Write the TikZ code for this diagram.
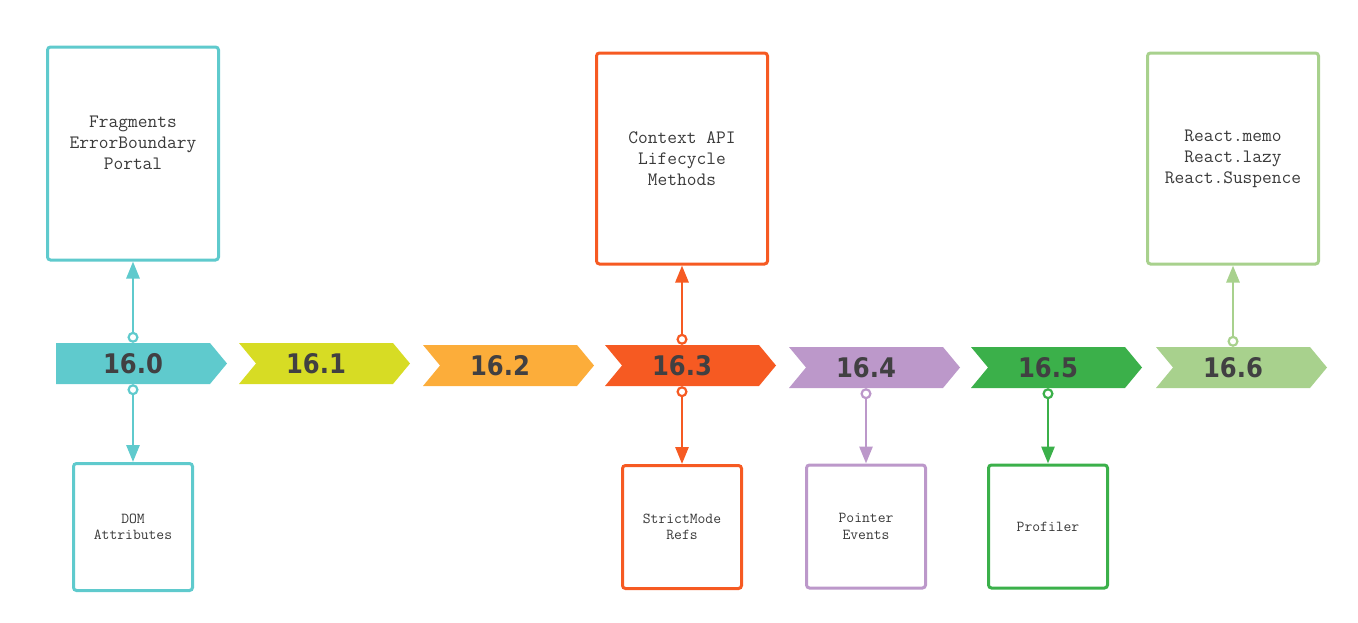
\documentclass[tikz,border=0pt]{standalone}
\usepackage{fontspec}
\newfontfamily\verfont{DejaVu Sans Condensed Bold}
\usepackage{tikz}
\usetikzlibrary{arrows.meta,positioning,calc}

\definecolor{c0}{HTML}{5FCACD}
\definecolor{c1}{HTML}{D7DC24}
\definecolor{c2}{HTML}{FCAD3A}
\definecolor{c3}{HTML}{F65A22}
\definecolor{c4}{HTML}{BC98CA}
\definecolor{c5}{HTML}{3BB04A}
\definecolor{c6}{HTML}{A8D18D}
\definecolor{vergray}{HTML}{414042}
\definecolor{boxgray}{HTML}{3A3A3A}

\begin{document}
\begin{tikzpicture}[x=1pt,y=-1pt,
ver/.style={minimum width=154pt,minimum height=41pt,inner sep=0pt,text=vergray,font=\verfont\fontsize{27}{27}\selectfont},
topbox/.style={draw=#1,fill=white,line width=3pt,rounded corners=3pt,minimum width=171pt,minimum height=211pt,align=center,text=boxgray,font=\ttfamily\fontsize{18.9}{21}\selectfont},
lowbox/.style={draw=#1,fill=white,line width=3pt,rounded corners=3pt,minimum width=119pt,minimum height=123pt,align=center,text=boxgray,font=\ttfamily\fontsize{15.2}{16.5}\selectfont},
conn/.style={color=#1,line width=2.8pt,{Circle[open,length=11pt,width=11pt,line width=2.2pt]}-{Triangle[length=17pt,width=13pt]}}]
\useasboundingbox (0,0) rectangle (1358,622);

% release chevrons
\fill[c0] (56,343) -- ++(154,0) -- ++(17,20.5) -- ++(-17,20.5) -- ++(-154,0) -- cycle;
\fill[c1] (239,343) -- ++(154,0) -- ++(17,20.5) -- ++(-17,20.5) -- ++(-154,0) -- ++(17,-20.5) -- cycle;
\fill[c2] (423,345) -- ++(154,0) -- ++(17,20.5) -- ++(-17,20.5) -- ++(-154,0) -- ++(17,-20.5) -- cycle;
\fill[c3] (605,345) -- ++(154,0) -- ++(17,20.5) -- ++(-17,20.5) -- ++(-154,0) -- ++(17,-20.5) -- cycle;
\fill[c4] (789,347) -- ++(154,0) -- ++(17,20.5) -- ++(-17,20.5) -- ++(-154,0) -- ++(17,-20.5) -- cycle;
\fill[c5] (971,347) -- ++(154,0) -- ++(17,20.5) -- ++(-17,20.5) -- ++(-154,0) -- ++(17,-20.5) -- cycle;
\fill[c6] (1156,347) -- ++(154,0) -- ++(17,20.5) -- ++(-17,20.5) -- ++(-154,0) -- ++(17,-20.5) -- cycle;

\draw (133,363.5) node[ver] (r0) {16.0};
\draw (316,363.5) node[ver] (r1) {16.1};
\draw (500,365.5) node[ver] (r2) {16.2};
\draw (682,365.5) node[ver] (r3) {16.3};
\draw (866,367.5) node[ver] (r4) {16.4};
\draw (1048,367.5) node[ver] (r5) {16.5};
\draw (1233,367.5) node[ver] (r6) {16.6};

% features above
\draw (133,153.5) node[topbox=c0, minimum height=213pt] (u0) {Fragments\\ErrorBoundary\\Portal\\\mbox{}};
\draw (682,158.5) node[topbox=c3] (u3) {Context API\\Lifecycle\\Methods};
\draw (1233,158.5) node[topbox=c6] (u6) {React.memo\\React.lazy\\React.Suspence};

% features below
\draw (133,527) node[lowbox=c0, minimum height=127pt] (d0) {DOM\\Attributes};
\draw (682,527) node[lowbox=c3] (d3) {StrictMode\\Refs};
\draw (866,526.5) node[lowbox=c4] (d4) {Pointer\\Events};
\draw (1048,526.5) node[lowbox=c5] (d5) {Profiler};

\path[conn=c0] (r0) edge (u0) (r0) edge (d0);
\path[conn=c3] (r3) edge (u3) (r3) edge (d3);
\path[conn=c4] (r4) edge (d4);
\path[conn=c5] (r5) edge (d5);
\path[conn=c6] (r6) edge (u6);

\end{tikzpicture}
\end{document}
